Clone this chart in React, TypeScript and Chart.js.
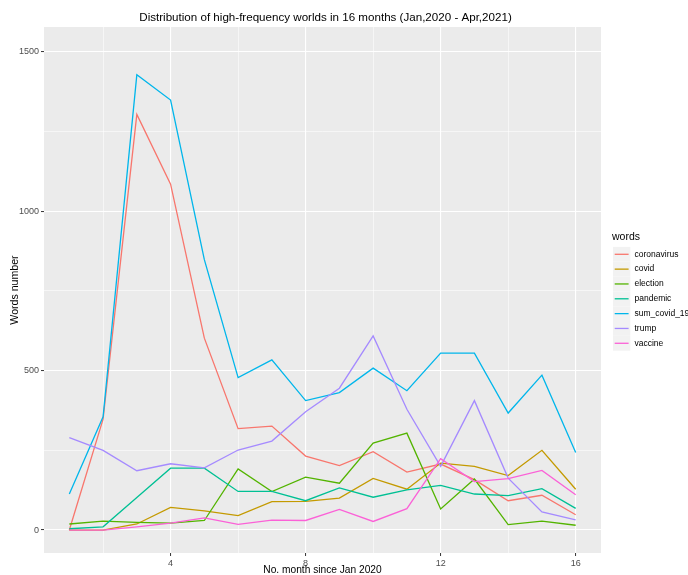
import React, { useEffect, useRef } from "react";
import { Chart, registerables } from "chart.js";

Chart.register(...registerables);

const months = [1, 2, 3, 4, 5, 6, 7, 8, 9, 10, 11, 12, 13, 14, 15, 16];
const coronavirus = [0, 348, 1304, 1085, 602, 318, 326, 232, 202, 246, 182, 207, 158, 92, 109, 48];
const covid = [0, 0, 19, 71, 60, 45, 89, 90, 100, 162, 128, 210, 200, 171, 250, 128];
const election = [19, 28, 24, 22, 30, 192, 121, 166, 147, 273, 304, 66, 160, 17, 28, 15];
const pandemic = [4, 10, 102, 194, 194, 121, 121, 92, 132, 103, 126, 140, 113, 108, 130, 68];
const sum_covid_19 = [113, 355, 1428, 1349, 848, 478, 534, 406, 431, 508, 437, 555, 555, 367, 486, 243];
const trump = [290, 250, 186, 208, 195, 251, 279, 371, 445, 609, 379, 200, 406, 163, 57, 32];
const vaccine = [0, 0, 10, 22, 38, 18, 31, 30, 65, 27, 67, 224, 152, 161, 187, 111];

const seriesNames = ["coronavirus", "covid", "election", "pandemic", "sum_covid_19", "trump", "vaccine"];
const seriesValues = [coronavirus, covid, election, pandemic, sum_covid_19, trump, vaccine];
const seriesColors = ["#F8766D", "#C49A00", "#53B400", "#00C094", "#00B6EB", "#A58AFF", "#FB61D7"];

const yMajorTicks = [0, 500, 1000, 1500];
const yMinorTicks = [250, 750, 1250];
const xMajorTicks = [4, 8, 12, 16];
const xMinorTicks = [2, 6, 10, 14];

const chartTitle = "Distribution of high-frequency worlds in 16 months (Jan,2020 - Apr,2021)";
const xTitle = "No. month since Jan 2020";
const yTitle = "Words number";
const legendTitle = "words";

const FONT = '"Liberation Sans", Arial, sans-serif';

const decorPlugin = {
  id: "decor",
  beforeDraw(chart: any) {
    const { ctx, chartArea: a } = chart;
    ctx.save();
    ctx.fillStyle = "#ffffff";
    ctx.fillRect(0, 0, chart.width, chart.height);
    ctx.fillStyle = "#EBEBEB";
    ctx.fillRect(a.left, a.top, a.right - a.left, a.bottom - a.top);
    ctx.restore();
  },
  afterDraw(chart: any) {
    const { ctx, chartArea: a } = chart;
    ctx.save();
    ctx.fillStyle = "#000000";
    ctx.font = `11.6px ${FONT}`;
    ctx.textAlign = "center";
    ctx.textBaseline = "middle";
    ctx.fillText(chartTitle, (a.left + a.right) / 2 + 3, 18);
    ctx.font = `10.2px ${FONT}`;
    ctx.fillText(xTitle, (a.left + a.right) / 2, 570);
    ctx.save();
    ctx.translate(15, (a.top + a.bottom) / 2);
    ctx.rotate(-Math.PI / 2);
    ctx.font = `10.6px ${FONT}`;
    ctx.fillText(yTitle, 0, 0);
    ctx.restore();
    ctx.textAlign = "left";
    ctx.font = `10.5px ${FONT}`;
    ctx.fillText(legendTitle, 612, 237.5);
    ctx.font = `8.5px ${FONT}`;
    seriesNames.forEach((name, i) => {
      const cy = 254.3 + i * 14.83;
      ctx.fillStyle = "#F2F2F2";
      ctx.fillRect(613, cy - 7.4, 17.3, 14.8);
      ctx.strokeStyle = seriesColors[i];
      ctx.lineWidth = 1.3;
      ctx.beginPath();
      ctx.moveTo(614.7, cy);
      ctx.lineTo(628.6, cy);
      ctx.stroke();
      ctx.fillStyle = "#000000";
      ctx.fillText(name, 634.5, cy);
    });
    ctx.restore();
  },
};

export default function App() {
  const ref = useRef<HTMLCanvasElement>(null);
  useEffect(() => {
    const canvas = ref.current;
    if (!canvas) return;
    const chart = new Chart(canvas, {
      type: "line",
      data: {
        datasets: seriesNames.map((name, i) => ({
          label: name,
          data: months.map((m, j) => ({ x: m, y: seriesValues[i][j] })),
          borderColor: seriesColors[i],
          backgroundColor: seriesColors[i],
          borderWidth: 1.3,
          pointRadius: 0,
          pointHoverRadius: 0,
          tension: 0,
          fill: false,
          order: seriesNames.length - i,
        })),
      },
      options: {
        responsive: false,
        animation: false,
        events: [],
        layout: { padding: { left: 0, top: 27, right: 87, bottom: 0 } },
        plugins: {
          legend: { display: false },
          title: { display: false },
          tooltip: { enabled: false },
        },
        scales: {
          x: {
            type: "linear",
            min: 0.25,
            max: 16.75,
            afterBuildTicks: (scale: any) => {
              scale.ticks = [...xMinorTicks, ...xMajorTicks].sort((p, q) => p - q).map((v) => ({ value: v }));
            },
            afterFit: (scale: any) => {
              scale.height = 22;
            },
            border: { display: false },
            grid: {
              drawTicks: true,
              tickLength: 3,
              color: "#ffffff",
              lineWidth: (c: any) => (xMajorTicks.includes(c.tick?.value) ? 1.1 : 0.55),
              tickColor: (c: any) => (xMajorTicks.includes(c.tick?.value) ? "#333333" : "rgba(0,0,0,0)"),
              tickWidth: 1,
            },
            ticks: {
              autoSkip: false,
              maxRotation: 0,
              padding: 2,
              color: "#4D4D4D",
              font: { family: FONT, size: 9 },
              callback: (v: any) => (xMajorTicks.includes(Number(v)) ? String(v) : ""),
            },
          },
          y: {
            type: "linear",
            min: -72,
            max: 1578,
            afterBuildTicks: (scale: any) => {
              scale.ticks = [...yMajorTicks, ...yMinorTicks].sort((p, q) => p - q).map((v) => ({ value: v }));
            },
            afterFit: (scale: any) => {
              scale.width = 44;
            },
            border: { display: false },
            grid: {
              drawTicks: true,
              tickLength: 3,
              color: "#ffffff",
              lineWidth: (c: any) => (yMajorTicks.includes(c.tick?.value) ? 1.1 : 0.55),
              tickColor: (c: any) => (yMajorTicks.includes(c.tick?.value) ? "#333333" : "rgba(0,0,0,0)"),
              tickWidth: 1,
            },
            ticks: {
              autoSkip: false,
              padding: 2,
              color: "#4D4D4D",
              font: { family: FONT, size: 9 },
              callback: (v: any) => (yMajorTicks.includes(Number(v)) ? String(v) : ""),
            },
          },
        },
      },
      plugins: [decorPlugin],
    });
    return () => chart.destroy();
  }, []);
  return (
    <div style={{ position: "absolute", left: 0, top: 0, width: 688, height: 575, background: "#ffffff" }}>
      <canvas ref={ref} width={688} height={575} style={{ display: "block", width: 688, height: 575 }} />
    </div>
  );
}
